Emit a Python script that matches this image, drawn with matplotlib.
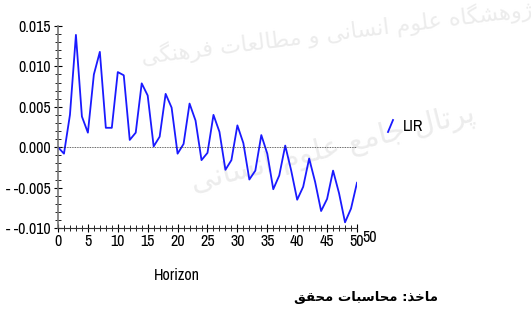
import matplotlib
matplotlib.use('Agg')
import matplotlib.pyplot as plt
from matplotlib.lines import Line2D
from matplotlib import font_manager

# impulse response of LIR over the horizon
horizon = list(range(0, 51))
lir = [0.0000, -0.0008, 0.0040, 0.0139, 0.0038, 0.0018, 0.0090, 0.0118, 0.0024, 0.0024,
       0.0093, 0.0089, 0.0009, 0.0018, 0.0079, 0.0064, 0.0001, 0.0013, 0.0066, 0.0049,
       -0.0008, 0.0004, 0.0054, 0.0033, -0.0016, -0.0007, 0.0040, 0.0019, -0.0028, -0.0016,
       0.0027, 0.0005, -0.0040, -0.0029, 0.0015, -0.0008, -0.0052, -0.0035, 0.0002, -0.0029,
       -0.0065, -0.0049, -0.0014, -0.0043, -0.0079, -0.0064, -0.0029, -0.0057, -0.0093, -0.0076,
       -0.0044]
yticks = [0.015, 0.010, 0.005, 0.000, -0.005, -0.010]
yticklabels = ['0.015', '0.010', '0.005', '0.000', '- -0.005', '- -0.010']
xticks = list(range(0, 51, 5))
source_text = 'ماخذ: محاسبات محقق'
watermark1 = 'پژوهشگاه علوم انسانی و مطالعات فرهنگی'
watermark2 = 'پرتال جامع علوم انسانی'

# minimal arabic shaping (matplotlib has no shaping / bidi)
FORMS = {
    'ا': ('\uFE8D', '\uFE8E'), 'د': ('\uFEA9', '\uFEAA'), 'ذ': ('\uFEAB', '\uFEAC'),
    'ر': ('\uFEAD', '\uFEAE'), 'ز': ('\uFEAF', '\uFEB0'), 'ژ': ('\uFB8A', '\uFB8B'),
    'و': ('\uFEED', '\uFEEE'),
    'ب': ('\uFE8F', '\uFE90', '\uFE91', '\uFE92'), 'پ': ('\uFB56', '\uFB57', '\uFB58', '\uFB59'),
    'ت': ('\uFE95', '\uFE96', '\uFE97', '\uFE98'), 'ج': ('\uFE9D', '\uFE9E', '\uFE9F', '\uFEA0'),
    'ح': ('\uFEA1', '\uFEA2', '\uFEA3', '\uFEA4'), 'خ': ('\uFEA5', '\uFEA6', '\uFEA7', '\uFEA8'),
    'س': ('\uFEB1', '\uFEB2', '\uFEB3', '\uFEB4'), 'ش': ('\uFEB5', '\uFEB6', '\uFEB7', '\uFEB8'),
    'ط': ('\uFEC1', '\uFEC2', '\uFEC3', '\uFEC4'), 'ع': ('\uFEC9', '\uFECA', '\uFECB', '\uFECC'),
    'ف': ('\uFED1', '\uFED2', '\uFED3', '\uFED4'), 'ق': ('\uFED5', '\uFED6', '\uFED7', '\uFED8'),
    'گ': ('\uFB92', '\uFB93', '\uFB94', '\uFB95'), 'ل': ('\uFEDD', '\uFEDE', '\uFEDF', '\uFEE0'),
    'م': ('\uFEE1', '\uFEE2', '\uFEE3', '\uFEE4'), 'ن': ('\uFEE5', '\uFEE6', '\uFEE7', '\uFEE8'),
    'ه': ('\uFEE9', '\uFEEA', '\uFEEB', '\uFEEC'), 'ی': ('\uFBFC', '\uFBFD', '\uFBFE', '\uFBFF'),
}


def shape(s):
    out = []
    for i, c in enumerate(s):
        if c not in FORMS:
            out.append(c)
            continue
        prev = s[i - 1] if i > 0 else ''
        nxt = s[i + 1] if i + 1 < len(s) else ''
        join_prev = prev in FORMS and len(FORMS[prev]) == 4
        join_next = len(FORMS[c]) == 4 and nxt in FORMS
        f = FORMS[c]
        if join_prev and join_next:
            out.append(f[3])
        elif join_prev:
            out.append(f[1])
        elif join_next:
            out.append(f[2])
        else:
            out.append(f[0])
    return ''.join(out)[::-1]


# arial-narrow look for the axis texts
names = {f.name for f in font_manager.fontManager.ttflist}
narrow = 'Liberation Sans'
for n in ['Liberation Sans Narrow', 'Archivo Narrow']:
    if n in names:
        narrow = n
        break
plt.rcParams['font.family'] = [narrow, 'DejaVu Sans']

fig = plt.figure(figsize=(5.31, 3.16), dpi=100)
ax = fig.add_axes([0.1092, 0.2785, 0.5631, 0.6392])
ax.set_facecolor('none')

# faint watermark behind the chart
fig.text(1.02, 0.895, shape(watermark1), ha='right', va='center', rotation=7,
         fontsize=16, color='#ececec', family='DejaVu Sans', zorder=-5)
fig.text(0.90, 0.53, shape(watermark2), ha='right', va='center', rotation=14,
         fontsize=21, color='#ececec', family='DejaVu Sans', zorder=-5)

ax.plot(horizon, lir, color='#1a1aff', linewidth=1.3)
ax.axhline(0, color='#333333', linewidth=0.6, linestyle=(0, (1, 1)))

ax.set_xlim(0, 50)
ax.set_ylim(-0.010, 0.015)
ax.set_xticks(xticks)
ax.set_xticks(range(0, 51), minor=True)
ax.set_yticks(yticks)
ax.set_yticklabels(yticklabels)
ax.set_yticks([v / 1000 for v in range(-10, 16)], minor=True)
for s in ['top', 'right']:
    ax.spines[s].set_visible(False)
ax.spines['left'].set_color('#777777')
ax.spines['left'].set_linewidth(1.2)
ax.spines['bottom'].set_color('#333333')
ax.tick_params(which='major', direction='inout', length=6, width=0.8, labelsize=11.5, pad=2)
ax.tick_params(which='minor', direction='inout', length=5, width=0.6)
ax.tick_params(axis='x', pad=1)

fig.text(370 / 531, 1 - 238 / 316, '50', fontsize=11.5, ha='center', va='center')
fig.text(177 / 531, 1 - 275 / 316, 'Horizon', fontsize=11.5, ha='center', va='center')

# legend
fig.add_artist(Line2D([388 / 531, 393 / 531], [1 - 132 / 316, 1 - 120 / 316],
                      color='#1a1aff', linewidth=1.3))
fig.text(403 / 531, 1 - 127 / 316, 'LIR', fontsize=11.5, ha='left', va='center')

fig.text(438 / 531, 1 - 298 / 316, shape(source_text), fontsize=9.5, fontweight='bold',
         family='DejaVu Sans', ha='right', va='center')

fig.savefig('out.png', dpi=100)
